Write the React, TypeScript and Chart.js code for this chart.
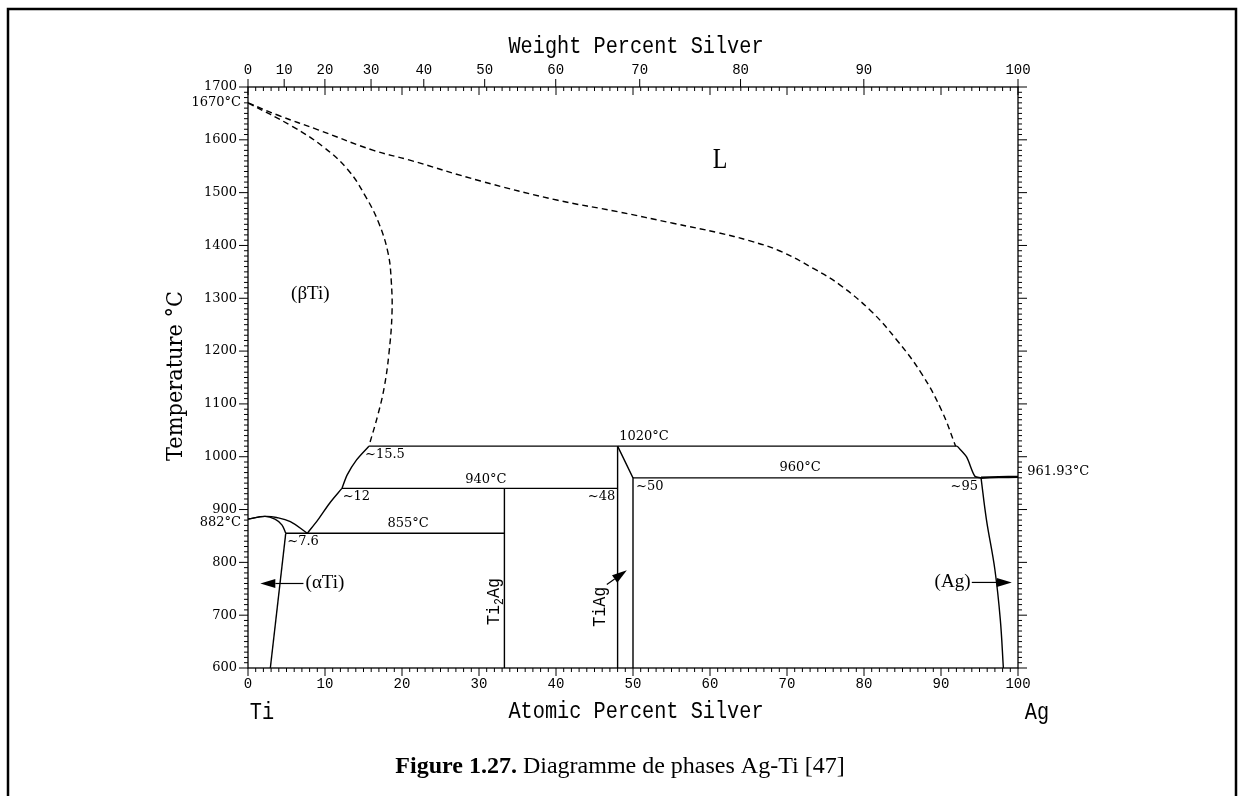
import React, { useEffect, useRef } from 'react';
import { Chart, registerables, LinearScale } from 'chart.js';

// ---------------- data (atomic % Ag, temperature °C) ----------------
const atomicTicks = [0, 10, 20, 30, 40, 50, 60, 70, 80, 90, 100];
const tempTicks = [600, 700, 800, 900, 1000, 1100, 1200, 1300, 1400, 1500, 1600, 1700];
const weightTicks = [0, 10, 20, 30, 40, 50, 60, 70, 80, 90, 100];

const liquidusAt = [0, 4, 9.1, 16.3, 20.9, 30.2, 40.1, 48.0, 55.2, 61.1, 65.1, 69.0, 73.6, 76.9, 80.9, 84.2, 87.5, 90.1, 91.9];
const liquidusT = [1670, 1646, 1619, 1580, 1562, 1522, 1486, 1464, 1442, 1424, 1409, 1390, 1355, 1325, 1276, 1222, 1157, 1087, 1020];

const betaTransusAt = [0, 5.8, 9.75, 13.0, 15.3, 17.0, 18.2, 18.6, 18.7, 18.3, 17.7, 16.9, 15.7];
const betaTransusT = [1670, 1625, 1587, 1543, 1492, 1442, 1385, 1334, 1271, 1195, 1132, 1081, 1020];

const betaUpperAt = [15.7, 14.1, 12.9, 12.2];
const betaUpperT = [1020, 994, 966, 940];
const betaLowerAt = [12.2, 10.6, 9.1, 7.7];
const betaLowerT = [940, 912, 881, 855];

const betaDomeAt = [0, 2.2, 3.7, 5.5, 7.7];
const betaDomeT = [882, 887, 885, 877, 855];
const alphaDomeAt = [0, 2.2, 3.5, 4.4, 4.9];
const alphaDomeT = [882, 887, 882, 871, 855];
const alphaSolvusAt = [4.9, 2.9];
const alphaSolvusT = [855, 600];

const eutectoidAt = [4.9, 33.3];
const eutectoidT = [855, 855];
const peri940At = [12.2, 48];
const peri940T = [940, 940];
const peri1020At = [15.7, 92.1];
const peri1020T = [1020, 1020];
const ti2agAt = [33.3, 33.3];
const ti2agT = [940, 600];
const tiagLeftAt = [48, 48];
const tiagLeftT = [1020, 600];
const tiagRightAt = [48, 50, 50];
const tiagRightT = [1020, 960, 600];
const peri960At = [50, 95.2];
const peri960T = [960, 960];
const liquidusAgAt = [92.1, 93.3, 94.4, 95.2];
const liquidusAgT = [1020, 1000, 963, 960];
const agMeltAt = [95.2, 97.5, 100];
const agMeltT = [960.3, 961.4, 961.93];
const agSolvusAt = [95.2, 95.9, 97.0, 97.7, 98.1];
const agSolvusT = [960, 881, 786, 692, 600];

// ---------------- weight-percent top scale ----------------
const M_AG = 107.87;
const M_TI = 47.87;
function wtToAt(w: number) {
  if (w <= 0) return 0;
  if (w >= 100) return 100;
  const a = w / M_AG;
  const t = (100 - w) / M_TI;
  return (100 * a) / (a + t);
}

class WeightPercentScale extends LinearScale {
  static id = 'weightPercent';
  static defaults = {};
  getPixelForValue(value: number) {
    return this.getPixelForDecimal(wtToAt(value) / 100);
  }
}

Chart.register(...registerables, WeightPercentScale);

const SERIF_NUM = '13px "DejaVu Serif"';
const MONO = '"Liberation Mono"';

type Ann = { text: string; at: number; t: number; font: string; align: CanvasTextAlign; rot?: boolean; sx?: number };
const annotations: Ann[] = [
  { text: 'L', at: 61.3, t: 1562, font: '30px "Liberation Serif"', align: 'center', sx: 0.8 },
  { text: '(\u03B2Ti)', at: 8.1, t: 1308, font: '19px "Liberation Serif"', align: 'center' },
  { text: '~15.5', at: 15.2, t: 1004, font: SERIF_NUM, align: 'left' },
  { text: '~12', at: 12.3, t: 924, font: SERIF_NUM, align: 'left' },
  { text: '~7.6', at: 5.1, t: 839, font: SERIF_NUM, align: 'left' },
  { text: '855\u00B0C', at: 20.8, t: 873, font: SERIF_NUM, align: 'center' },
  { text: '940\u00B0C', at: 30.9, t: 956, font: SERIF_NUM, align: 'center' },
  { text: '1020\u00B0C', at: 48.2, t: 1038, font: SERIF_NUM, align: 'left' },
  { text: '~48', at: 47.7, t: 924, font: SERIF_NUM, align: 'right' },
  { text: '~50', at: 50.4, t: 943, font: SERIF_NUM, align: 'left' },
  { text: '960\u00B0C', at: 71.7, t: 979, font: SERIF_NUM, align: 'center' },
  { text: '~95', at: 94.8, t: 943, font: SERIF_NUM, align: 'right' },
  { text: '961.93\u00B0C', at: 101.2, t: 972, font: SERIF_NUM, align: 'left' },
  { text: '(\u03B1Ti)', at: 10.0, t: 760, font: '19px "Liberation Serif"', align: 'center' },
  { text: '(Ag)', at: 91.5, t: 762, font: '19px "Liberation Serif"', align: 'center' },
  { text: 'TiAg', at: 45.7, t: 716, font: `19px ${MONO}`, align: 'center', rot: true, sx: 0.88 },
];

type Arrow = { fromAt: number; fromT: number; toAt: number; toT: number };
const arrows: Arrow[] = [
  { fromAt: 7.2, fromT: 760, toAt: 1.6, toT: 760 },
  { fromAt: 94.0, fromT: 762, toAt: 99.2, toT: 762 },
  { fromAt: 46.6, fromT: 758, toAt: 49.2, toT: 785 },
];

function ds(xs: number[], ys: number[], dashed = false, tension = 0, width = 1.4) {
  return {
    data: xs.map((x, i) => ({ x, y: ys[i] })),
    showLine: true,
    borderColor: '#000',
    borderWidth: width,
    borderDash: dashed ? [6, 4] : [],
    pointRadius: 0,
    tension,
    fill: false,
  };
}

function narrowText(ctx: CanvasRenderingContext2D, text: string, x: number, y: number, sx: number) {
  ctx.save();
  ctx.translate(x, y);
  ctx.scale(sx, 1);
  ctx.fillText(text, 0, 0);
  ctx.restore();
}

const overlay = {
  id: 'overlay',
  afterDraw(chart: any) {
    const ctx: CanvasRenderingContext2D = chart.ctx;
    const { left, right, top, bottom } = chart.chartArea;
    const xs = chart.scales.x;
    const ys = chart.scales.y;
    const ws = chart.scales.x2;
    const px = (a: number) => xs.getPixelForValue(a);
    const py = (t: number) => ys.getPixelForValue(t);
    ctx.save();
    ctx.strokeStyle = '#000';
    ctx.fillStyle = '#000';
    ctx.lineWidth = 1.3;
    ctx.strokeRect(left, top, right - left, bottom - top);
    ctx.lineWidth = 1;
    ctx.beginPath();
    for (let i = 0; i <= 100; i++) {
      const x = px(i);
      const len = i % 10 === 0 ? 8 : 4;
      ctx.moveTo(x, bottom);
      ctx.lineTo(x, bottom + len);
      ctx.moveTo(x, top);
      ctx.lineTo(x, top + len);
    }
    weightTicks.forEach((w) => {
      const x = ws.getPixelForValue(w);
      ctx.moveTo(x, top);
      ctx.lineTo(x, top - 8);
    });
    for (let t = 600; t <= 1700; t += 10) {
      const y = py(t);
      const len = t % 100 === 0 ? 9 : 4;
      ctx.moveTo(left - len, y);
      ctx.lineTo(left, y);
      ctx.moveTo(right, y);
      ctx.lineTo(right + len, y);
    }
    ctx.stroke();

    ctx.lineWidth = 1.2;
    arrows.forEach((a) => {
      const x1 = px(a.fromAt), y1 = py(a.fromT), x2 = px(a.toAt), y2 = py(a.toT);
      const ang = Math.atan2(y2 - y1, x2 - x1);
      const hl = 15, hw = 4.5;
      ctx.beginPath();
      ctx.moveTo(x1, y1);
      ctx.lineTo(x2 - hl * Math.cos(ang), y2 - hl * Math.sin(ang));
      ctx.stroke();
      ctx.beginPath();
      ctx.moveTo(x2, y2);
      ctx.lineTo(x2 - hl * Math.cos(ang) + hw * Math.sin(ang), y2 - hl * Math.sin(ang) - hw * Math.cos(ang));
      ctx.lineTo(x2 - hl * Math.cos(ang) - hw * Math.sin(ang), y2 - hl * Math.sin(ang) + hw * Math.cos(ang));
      ctx.closePath();
      ctx.fill();
    });

    ctx.textBaseline = 'middle';
    annotations.forEach((a) => {
      ctx.font = a.font;
      ctx.textAlign = a.align;
      ctx.save();
      ctx.translate(px(a.at), py(a.t));
      if (a.rot) ctx.rotate(-Math.PI / 2);
      if (a.sx) ctx.scale(a.sx, 1);
      ctx.fillText(a.text, 0, 0);
      ctx.restore();
    });

    // Ti2Ag rotated with subscript
    ctx.save();
    ctx.translate(px(31.9), py(726));
    ctx.rotate(-Math.PI / 2);
    ctx.scale(0.88, 1);
    const big = `19px ${MONO}`;
    const small = `13px ${MONO}`;
    ctx.font = big;
    const wTi = ctx.measureText('Ti').width;
    const wAg = ctx.measureText('Ag').width;
    ctx.font = small;
    const w2 = ctx.measureText('2').width;
    let sx = -(wTi + w2 + wAg) / 2;
    ctx.textAlign = 'left';
    ctx.font = big;
    ctx.fillText('Ti', sx, 0);
    sx += wTi;
    ctx.font = small;
    ctx.fillText('2', sx, 6);
    sx += w2;
    ctx.font = big;
    ctx.fillText('Ag', sx, 0);
    ctx.restore();

    ctx.font = SERIF_NUM;
    ctx.textAlign = 'right';
    ctx.fillText('1670\u00B0C', left - 7, py(1670));
    ctx.fillText('882\u00B0C', left - 7, py(882) + 4);

    // axis titles
    ctx.font = `23px ${MONO}`;
    ctx.textAlign = 'center';
    narrowText(ctx, 'Weight Percent Silver', 636, 47, 0.88);
    narrowText(ctx, 'Atomic Percent Silver', 636, 712, 0.88);
    narrowText(ctx, 'Ti', 262, 713, 0.88);
    narrowText(ctx, 'Ag', 1037, 713, 0.88);
    ctx.save();
    ctx.translate(176, 376);
    ctx.rotate(-Math.PI / 2);
    ctx.font = '22px "DejaVu Serif"';
    ctx.scale(0.95, 1);
    ctx.fillText('Temperature \u00B0C', 0, 0);
    ctx.restore();

    // caption
    ctx.textAlign = 'left';
    ctx.textBaseline = 'alphabetic';
    const bold = 'bold 24px "Liberation Serif"';
    const reg = '24px "Liberation Serif"';
    const p1 = 'Figure 1.27.';
    const p2 = ' Diagramme de phases Ag-Ti [47]';
    ctx.font = bold;
    const w1 = ctx.measureText(p1).width;
    ctx.font = reg;
    const wp2 = ctx.measureText(p2).width;
    const cx = 620 - (w1 + wp2) / 2;
    ctx.font = bold;
    ctx.fillText(p1, cx, 773);
    ctx.font = reg;
    ctx.fillText(p2, cx + w1, 773);

    // frame
    ctx.lineWidth = 2.5;
    ctx.beginPath();
    ctx.moveTo(8, 800);
    ctx.lineTo(8, 9);
    ctx.lineTo(1236, 9);
    ctx.lineTo(1236, 800);
    ctx.stroke();
    ctx.restore();
  },
};

const plain = (v: any) => String(v);

export default function App() {
  const ref = useRef<HTMLCanvasElement>(null);
  useEffect(() => {
    if (!ref.current) return;
    const chart = new Chart(ref.current, {
      type: 'scatter',
      data: {
        datasets: [
          ds(liquidusAt, liquidusT, true, 0.4),
          ds(betaTransusAt, betaTransusT, true, 0.4),
          ds(betaUpperAt, betaUpperT, false, 0.3),
          ds(betaLowerAt, betaLowerT, false, 0.3),
          ds(betaDomeAt, betaDomeT, false, 0.4),
          ds(alphaDomeAt, alphaDomeT, false, 0.4),
          ds(alphaSolvusAt, alphaSolvusT),
          ds(eutectoidAt, eutectoidT),
          ds(peri940At, peri940T),
          ds(peri1020At, peri1020T),
          ds(ti2agAt, ti2agT),
          ds(tiagLeftAt, tiagLeftT),
          ds(tiagRightAt, tiagRightT),
          ds(peri960At, peri960T),
          ds(liquidusAgAt, liquidusAgT, false, 0.3),
          ds(agMeltAt, agMeltT, false, 0.3, 2.4),
          ds(agSolvusAt, agSolvusT, false, 0.4),
        ] as any,
      },
      options: {
        animation: false,
        responsive: false,
        maintainAspectRatio: false,
        devicePixelRatio: 1,
        layout: { padding: { left: 0, right: 225, top: 0, bottom: 0 } },
        plugins: { legend: { display: false }, tooltip: { enabled: false } },
        events: [],
        scales: {
          x: {
            type: 'linear',
            position: 'bottom',
            min: 0,
            max: 100,
            afterBuildTicks: (s: any) => { s.ticks = atomicTicks.map((v) => ({ value: v })); },
            afterFit: (s: any) => { s.height = 128; },
            grid: { display: false, drawTicks: true, tickLength: 8 },
            border: { display: false },
            ticks: { callback: plain, autoSkip: false, maxRotation: 0, padding: 0, color: '#000', font: { family: 'Liberation Mono', size: 14 } },
          },
          x2: {
            type: 'weightPercent',
            position: 'top',
            min: 0,
            max: 100,
            afterBuildTicks: (s: any) => { s.ticks = weightTicks.map((v) => ({ value: v })); },
            afterFit: (s: any) => { s.height = 87; },
            grid: { display: false, drawTicks: true, tickLength: 8 },
            border: { display: false },
            ticks: { callback: plain, autoSkip: false, maxRotation: 0, padding: 0, color: '#000', font: { family: 'Liberation Mono', size: 14 } },
          },
          y: {
            type: 'linear',
            position: 'left',
            min: 600,
            max: 1700,
            afterBuildTicks: (s: any) => { s.ticks = tempTicks.map((v) => ({ value: v })); },
            afterFit: (s: any) => { s.width = 248; },
            grid: { display: false, drawTicks: true, tickLength: 9 },
            border: { display: false },
            ticks: { callback: plain, autoSkip: false, padding: 2, color: '#000', font: { family: 'DejaVu Serif', size: 13 } },
          },
        } as any,
      },
      plugins: [overlay],
    });
    return () => chart.destroy();
  }, []);
  return (
    <div style={{ position: 'absolute', left: 0, top: 0, width: 1243, height: 796, background: '#fff' }}>
      <canvas ref={ref} width={1243} height={796} style={{ display: 'block' }} />
    </div>
  );
}
